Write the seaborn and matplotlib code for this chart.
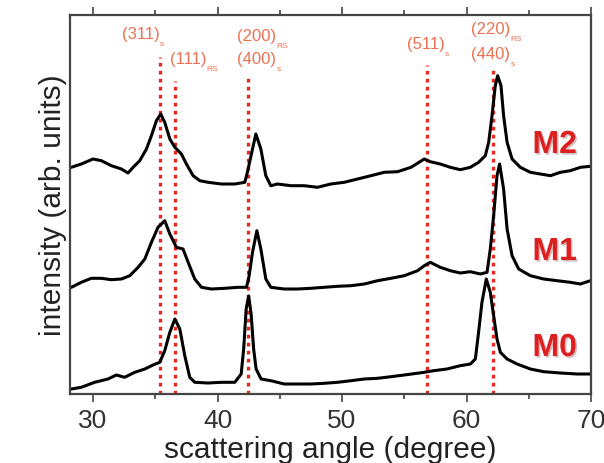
import matplotlib
matplotlib.use("Agg")
import matplotlib.pyplot as plt
import matplotlib.patheffects as pe
from matplotlib.ticker import MultipleLocator
import pandas as pd
import seaborn as sns

# XRD patterns (stacked, arb. units)
m2_angle = [28.26, 29.06, 30.0, 30.67, 31.47, 32.28, 32.81, 33.22, 33.75, 34.29,
            34.69, 35.09, 35.44, 35.76, 36.17, 36.57, 37.1, 37.5, 38.04, 38.58,
            39.24, 40.31, 41.39, 42.19, 42.4, 42.81, 43.08, 43.48, 43.88, 44.28,
            44.82, 45.89, 46.96, 48.03, 49.1, 50.18, 51.25, 52.32, 53.39, 54.46,
            55.54, 56.61, 57.09, 57.89, 58.7, 59.5, 60.31, 60.97, 61.51, 61.78,
            62.05, 62.31, 62.5, 62.77, 62.98, 63.26, 63.66, 64.32, 65.13, 65.93,
            66.74, 67.54, 68.34, 69.15, 69.95]
m2_int = [226.7, 230, 235, 233.3, 228.3, 225, 221, 226.7, 233.3, 245,
          258.3, 273.3, 280, 271.7, 255, 246.7, 240, 230, 218.3, 213.3,
          211.7, 210, 210, 211.7, 221.7, 245, 260, 245, 218.3, 208.3,
          210, 208.3, 208.3, 206.7, 210, 211.7, 215, 218.3, 221.7, 222.3,
          226.7, 235, 232.3, 230, 226.7, 224.3, 226.7, 231.7, 238.3, 251.7,
          278.3, 308.3, 318.3, 308.3, 278.3, 251.7, 235, 226.7, 221.7, 220,
          218.3, 221.7, 223.3, 226.7, 227.7]

m1_angle = [28.26, 29.06, 29.86, 30.67, 31.47, 32.28, 32.95, 33.62, 34.16, 34.69,
            35.22, 35.76, 36.17, 36.7, 37.23, 37.64, 38.17, 38.71, 39.51, 40.59,
            41.66, 42.33, 42.54, 42.81, 43.16, 43.48, 43.88, 44.28, 45.35, 46.42,
            47.5, 48.57, 49.64, 50.72, 51.79, 52.86, 53.93, 55.0, 56.07, 56.61,
            57.09, 57.89, 58.7, 59.5, 60.31, 61.11, 61.65, 61.91, 62.18, 62.45,
            62.66, 62.98, 63.26, 63.66, 64.19, 65.13, 66.2, 67.27, 68.34, 69.15,
            69.95]
m1_int = [106.7, 111.7, 115.7, 115.7, 114.3, 115, 118.3, 126.7, 135, 151.7,
          166.7, 173.3, 160, 146.7, 145, 131.7, 115, 106.7, 105, 105.7,
          106.7, 106.7, 118.3, 141.7, 163.3, 145, 115, 106.7, 105, 105,
          105.7, 106.7, 107.7, 108.3, 110, 113.3, 115.7, 118.3, 123.3, 128.3,
          131.7, 126.7, 123.3, 121, 122.3, 120, 121.7, 145, 178.3, 218.3,
          230, 205, 165, 138.3, 125, 118.3, 115, 113.3, 111.7, 110,
          113.3]

m0_angle = [28.26, 29.06, 30.13, 31.2, 31.87, 32.54, 33.35, 34.16, 34.82, 35.36,
            35.76, 36.17, 36.57, 36.97, 37.37, 37.77, 38.17, 39.24, 40.31, 41.39,
            41.9, 42.1, 42.3, 42.5, 42.7, 42.9, 43.1, 43.5, 44.28, 45.35,
            46.42, 47.5, 48.57, 49.64, 50.72, 51.79, 52.86, 53.93, 55.0, 56.61,
            57.36, 58.43, 59.5, 60.31, 60.71, 60.97, 61.24, 61.59, 61.91, 62.18,
            62.45, 62.72, 63.26, 64.06, 65.13, 66.2, 67.54, 68.88, 69.95]
m0_int = [5, 6.7, 11.7, 15, 19, 16.7, 21.7, 25, 29, 31.7,
          43.3, 61.7, 75, 65, 38.3, 16.7, 11.7, 11, 11.7, 11.7,
          20, 45, 85, 98, 80, 45, 25, 15, 13.3, 10,
          10, 10, 10.7, 11.7, 13.3, 15, 15.7, 17.3, 19, 21.7,
          23.3, 25, 28.3, 30, 35, 61.7, 91.7, 115, 101.7, 78.3,
          55, 41.7, 35, 30, 25, 22.3, 21, 20, 20]

samples = ["M2", "M1", "M0"]
sample_label_y = [249, 142, 46]

# reference reflections
refl_pos = [35.4, 36.6, 42.45, 56.8, 62.15]
refl_top = [337, 313, 317, 329, 327]
refl_hkl = ["(311)", "(111)", "(200)", "(400)", "(511)", "(220)", "(440)"]
refl_phase = ["s", "RS", "RS", "s", "s", "RS", "s"]
refl_label_x = [32.3, 36.2, 41.6, 41.6, 55.2, 60.4, 60.4]
refl_label_y = [356, 331, 354, 331, 346, 361, 336]

df = pd.concat([
    pd.DataFrame({"angle": m2_angle, "intensity": m2_int, "sample": "M2"}),
    pd.DataFrame({"angle": m1_angle, "intensity": m1_int, "sample": "M1"}),
    pd.DataFrame({"angle": m0_angle, "intensity": m0_int, "sample": "M0"}),
])

sns.set_style("white")
plt.rcParams["font.family"] = ["Liberation Sans", "DejaVu Sans"]

fig = plt.figure(figsize=(6.04, 4.64), dpi=100)
ax = fig.add_axes([70 / 604, 1 - 395 / 464, 521 / 604, 379 / 464])

ax.vlines(refl_pos, 0, refl_top, colors="#e8291f", linestyles=(0, (1.1, 1.3)),
          linewidth=2.4, zorder=1)

sns.lineplot(data=df, x="angle", y="intensity", hue="sample", hue_order=samples,
             palette=["black"] * 3, estimator=None, linewidth=2.2, legend=False,
             ax=ax, zorder=2)

for hkl, phase, x, y in zip(refl_hkl, refl_phase, refl_label_x, refl_label_y):
    t = ax.text(x, y, hkl, color="#ee7050", fontsize=12, ha="left", va="baseline")
    ax.annotate(phase, xy=(1.0, 0.05), xycoords=t, color="#ee7050", fontsize=6,
                ha="left", va="top")

for name, y in zip(samples, sample_label_y):
    ax.text(65.3, y, name, color="#dd1f1f", fontsize=23, fontweight="bold",
            ha="left", va="center",
            path_effects=[pe.withSimplePatchShadow(offset=(1.2, -1.2), alpha=0.25)])

ax.set_xlim(28.15, 70)
ax.set_ylim(0, 379)
ax.xaxis.set_major_locator(MultipleLocator(10))
ax.xaxis.set_minor_locator(MultipleLocator(5))
ax.set_yticks([])
ax.tick_params(axis="x", which="both", direction="out", top=True, bottom=True,
               labeltop=False, width=1.2, colors="#444444", labelcolor="#333333",
               labelsize=19)
ax.tick_params(axis="x", which="major", length=6, pad=4)
ax.tick_params(axis="x", which="minor", length=3.5)
for side in ax.spines.values():
    side.set_color("#444444")
    side.set_linewidth(1.6)

ax.set_xlabel("scattering angle (degree)", fontsize=21.5, color="#222222", labelpad=2)
ax.set_ylabel("intensity (arb. units)", fontsize=21.5, color="#222222", labelpad=2)

fig.savefig("out.png", dpi=100)
